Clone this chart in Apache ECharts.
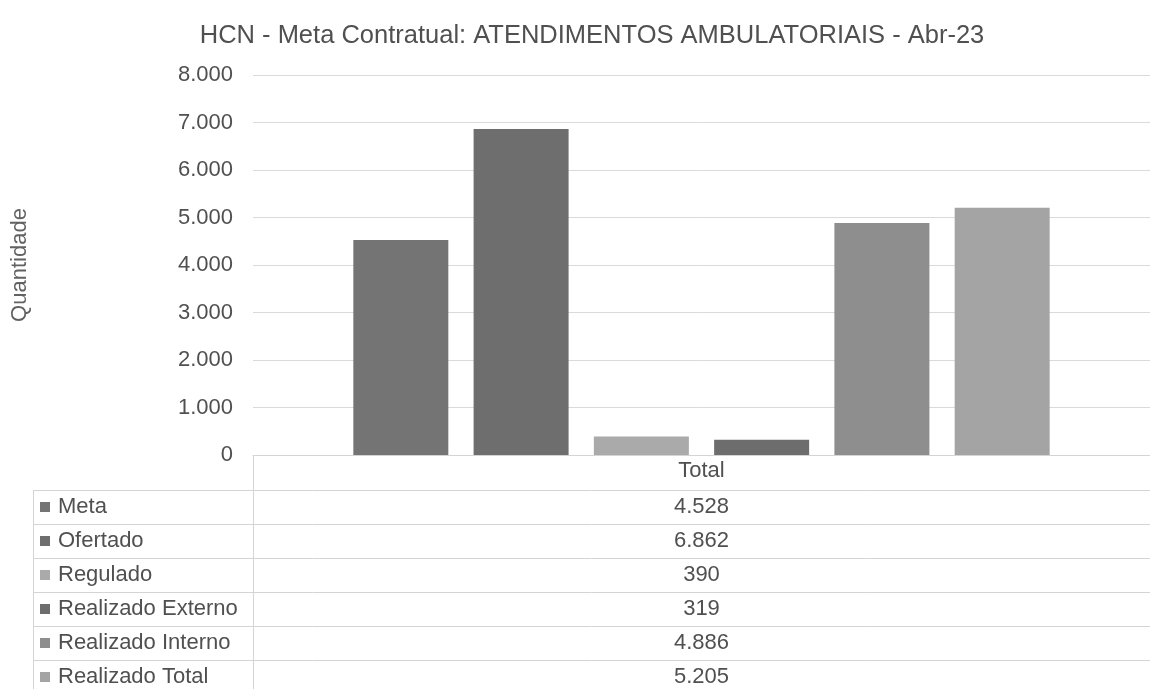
<!DOCTYPE html>
<html>
<head>
<meta charset="utf-8">
<script src="https://cdn.jsdelivr.net/npm/echarts@6/dist/echarts.min.js"></script>
<style>
  html, body { margin: 0; padding: 0; background: #fff; }
  #chart { width: 1150px; height: 689px; }
</style>
</head>
<body>
<div id="chart"></div>
<script>
// ---- data ----
const titleText = 'HCN - Meta Contratual: ATENDIMENTOS AMBULATORIAIS - Abr-23';
const yAxisName = 'Quantidade';
const categories = ['Total'];
const seriesNames = ['Meta', 'Ofertado', 'Regulado', 'Realizado Externo', 'Realizado Interno', 'Realizado Total'];
const meta = [4528];
const ofertado = [6862];
const regulado = [390];
const realizadoExterno = [319];
const realizadoInterno = [4886];
const realizadoTotal = [5205];
const yMin = 0, yMax = 8000, yStep = 1000;

// ---- styles ----
const seriesColors = ['#747474', '#6e6e6e', '#aaaaaa', '#6d6d6d', '#8e8e8e', '#a4a4a4'];
const seriesData = [meta, ofertado, regulado, realizadoExterno, realizadoInterno, realizadoTotal];
const textColor = '#505050';
const lineColor = '#d4d4d4';
const FONT = '"Liberation Sans", Arial, sans-serif';

const fmt = v => String(v).replace(/\B(?=(\d{3})+(?!\d))/g, '.');

const chart = echarts.init(document.getElementById('chart'), null, { renderer: 'canvas' });

const option = {
  animation: false,
  backgroundColor: '#ffffff',
  textStyle: { fontFamily: FONT },
  title: {
    text: titleText,
    left: 587, top: 18,
    textAlign: 'center',
    textStyle: { fontFamily: FONT, fontSize: 25.5, fontWeight: 'normal', color: textColor }
  },
  grid: { left: 253, top: 75, width: 906, bottom: 234, containLabel: false },
  xAxis: {
    type: 'category',
    data: categories,
    axisTick: { show: false },
    axisLine: { lineStyle: { color: lineColor, width: 1 } },
    axisLabel: { margin: 5, fontFamily: FONT, fontSize: 22, color: textColor }
  },
  yAxis: {
    type: 'value',
    min: yMin, max: yMax, interval: yStep,
    name: yAxisName,
    nameLocation: 'middle',
    nameGap: 222,
    nameRotate: 90,
    nameTextStyle: { fontFamily: FONT, fontSize: 22, color: '#626262' },
    axisLine: { show: false },
    axisTick: { show: false },
    splitLine: { lineStyle: { color: '#dadada', width: 1 } },
    axisLabel: { margin: 20, fontFamily: FONT, fontSize: 22, color: textColor, formatter: fmt }
  },
  series: seriesNames.map((name, i) => ({
    name,
    type: 'bar',
    data: seriesData[i],
    barWidth: 95,
    barGap: '26.6%',
    itemStyle: { color: seriesColors[i] }
  }))
};
chart.setOption(option);

// ---- data table beneath the chart (built from the arrays above) ----
const axisY = chart.convertToPixel({ yAxisIndex: 0 }, 0);
const colX = chart.convertToPixel({ xAxisIndex: 0 }, categories[0]);
const tableLeft = 33, splitX = 253, tableRight = 1150;
const rowTop = axisY + 35, rowH = 34;
const graphics = [];
graphics.push({ type: 'line', shape: { x1: splitX + 0.5, y1: axisY, x2: splitX + 0.5, y2: 689 }, style: { stroke: lineColor, lineWidth: 1 }, silent: true });
graphics.push({ type: 'line', shape: { x1: tableLeft + 0.5, y1: rowTop, x2: tableLeft + 0.5, y2: 689 }, style: { stroke: lineColor, lineWidth: 1 }, silent: true });
for (let i = 0; i <= seriesNames.length; i++) {
  const y = Math.round(rowTop + i * rowH) + 0.5;
  graphics.push({ type: 'line', shape: { x1: tableLeft, y1: y, x2: tableRight, y2: y }, style: { stroke: lineColor, lineWidth: 1 }, silent: true });
}
seriesNames.forEach((name, i) => {
  const cy = rowTop + i * rowH + rowH / 2;
  graphics.push({ type: 'rect', shape: { x: 40, y: cy - 5, width: 10, height: 10 }, style: { fill: seriesColors[i] }, silent: true });
  graphics.push({ type: 'text', x: 58, y: cy, style: { text: name, font: '22px ' + FONT, fill: textColor, textVerticalAlign: 'middle', verticalAlign: 'middle' }, silent: true });
  graphics.push({ type: 'text', x: colX, y: cy, style: { text: fmt(seriesData[i][0]), font: '22px ' + FONT, fill: textColor, textAlign: 'center', align: 'center', textVerticalAlign: 'middle', verticalAlign: 'middle' }, silent: true });
});
chart.setOption({ graphic: graphics });
</script>
</body>
</html>
